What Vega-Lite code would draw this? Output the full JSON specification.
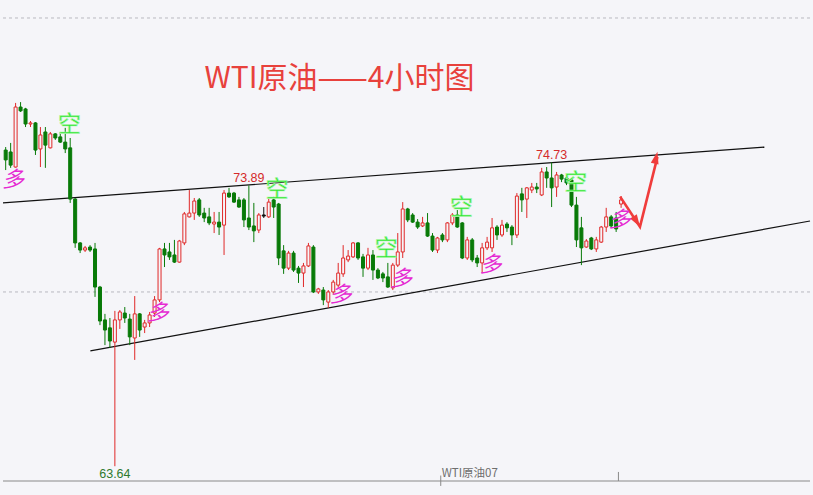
{
  "$schema": "https://vega.github.io/schema/vega-lite/v6.json",
  "width": 813,
  "height": 495,
  "autosize": {"type": "fit", "contains": "padding"},
  "padding": 0,
  "background": "#f5f5f9",
  "config": {"view": {"stroke": null}, "scale": {"continuousPadding": 0}},
  "datasets": {
    "grid": [{"p": 70}, {"p": 80}],
    "base": [{"p": 63.1}],
    "ticks": [{"i": 123.46, "p1": 63.1, "p2": 63.43}, {"i": 87.66, "p1": 62.92, "p2": 63.3}],
    "trend": [
      {"line": "upper", "i": -0.54, "p": 73.25},
      {"line": "upper", "i": 152.86, "p": 75.29},
      {"line": "lower", "i": 17.06, "p": 67.85},
      {"line": "lower", "i": 162.06, "p": 72.59}
    ],
    "candles": [
      {"i":0,"o":75.18,"c":74.82,"h":75.29,"l":74.45,"d":"down"},
      {"i":1,"o":75.11,"c":74.63,"h":75.44,"l":74.53,"d":"down"},
      {"i":2,"o":74.56,"c":76.75,"h":76.90,"l":74.54,"d":"up"},
      {"i":3,"o":76.75,"c":76.61,"h":76.93,"l":76.57,"d":"down"},
      {"i":4,"o":76.68,"c":76.13,"h":76.72,"l":76.02,"d":"down"},
      {"i":5,"o":76.13,"c":76.17,"h":76.24,"l":76.02,"d":"up"},
      {"i":6,"o":76.17,"c":75.18,"h":76.20,"l":75.00,"d":"down"},
      {"i":7,"o":75.22,"c":75.73,"h":76.02,"l":74.56,"d":"up"},
      {"i":8,"o":75.84,"c":75.36,"h":76.02,"l":74.53,"d":"down"},
      {"i":9,"o":75.26,"c":75.77,"h":75.84,"l":75.24,"d":"up"},
      {"i":10,"o":75.77,"c":75.62,"h":75.80,"l":75.55,"d":"down"},
      {"i":11,"o":75.66,"c":75.47,"h":75.84,"l":75.44,"d":"down"},
      {"i":12,"o":75.47,"c":75.22,"h":75.99,"l":75.07,"d":"down"},
      {"i":13,"o":75.26,"c":73.39,"h":75.62,"l":73.25,"d":"down"},
      {"i":14,"o":73.39,"c":71.79,"h":73.43,"l":71.61,"d":"down"},
      {"i":15,"o":71.79,"c":71.53,"h":71.82,"l":71.42,"d":"down"},
      {"i":16,"o":71.53,"c":71.61,"h":71.68,"l":71.46,"d":"up"},
      {"i":17,"o":71.64,"c":71.53,"h":71.71,"l":71.46,"d":"down"},
      {"i":18,"o":71.57,"c":70.18,"h":71.79,"l":69.82,"d":"down"},
      {"i":19,"o":70.18,"c":68.94,"h":70.22,"l":68.79,"d":"down"},
      {"i":20,"o":68.98,"c":68.61,"h":69.20,"l":68.06,"d":"down"},
      {"i":21,"o":68.69,"c":68.21,"h":69.05,"l":67.96,"d":"down"},
      {"i":22,"o":68.17,"c":68.98,"h":69.31,"l":63.64,"d":"up"},
      {"i":23,"o":68.98,"c":69.27,"h":69.34,"l":68.65,"d":"up"},
      {"i":24,"o":69.23,"c":69.05,"h":69.45,"l":68.87,"d":"down"},
      {"i":25,"o":69.01,"c":68.36,"h":69.20,"l":68.06,"d":"down"},
      {"i":26,"o":68.32,"c":69.20,"h":69.85,"l":67.52,"d":"up"},
      {"i":27,"o":69.20,"c":68.61,"h":69.23,"l":68.36,"d":"down"},
      {"i":28,"o":68.72,"c":68.87,"h":68.98,"l":68.50,"d":"up"},
      {"i":29,"o":68.87,"c":69.16,"h":69.27,"l":68.72,"d":"up"},
      {"i":30,"o":69.23,"c":69.71,"h":69.85,"l":69.09,"d":"up"},
      {"i":31,"o":69.71,"c":71.57,"h":71.61,"l":69.63,"d":"up"},
      {"i":32,"o":71.57,"c":71.35,"h":71.79,"l":70.91,"d":"down"},
      {"i":33,"o":71.46,"c":71.28,"h":71.79,"l":71.17,"d":"down"},
      {"i":34,"o":71.35,"c":71.09,"h":71.90,"l":71.06,"d":"down"},
      {"i":35,"o":71.09,"c":71.86,"h":71.90,"l":71.07,"d":"up"},
      {"i":36,"o":71.79,"c":72.85,"h":72.92,"l":71.71,"d":"up"},
      {"i":37,"o":72.74,"c":72.88,"h":73.72,"l":72.72,"d":"up"},
      {"i":38,"o":72.88,"c":73.32,"h":73.43,"l":72.63,"d":"up"},
      {"i":39,"o":73.36,"c":72.81,"h":73.43,"l":72.74,"d":"down"},
      {"i":40,"o":72.88,"c":72.70,"h":73.07,"l":72.55,"d":"down"},
      {"i":41,"o":72.74,"c":72.52,"h":73.07,"l":72.44,"d":"down"},
      {"i":42,"o":72.48,"c":72.55,"h":72.92,"l":72.15,"d":"up"},
      {"i":43,"o":72.55,"c":72.37,"h":72.92,"l":72.08,"d":"down"},
      {"i":44,"o":72.44,"c":73.61,"h":73.72,"l":71.35,"d":"up"},
      {"i":45,"o":73.61,"c":73.47,"h":73.80,"l":73.43,"d":"down"},
      {"i":46,"o":73.61,"c":73.28,"h":73.65,"l":73.25,"d":"down"},
      {"i":47,"o":73.36,"c":73.10,"h":73.47,"l":73.07,"d":"down"},
      {"i":48,"o":73.36,"c":72.63,"h":73.43,"l":72.37,"d":"down"},
      {"i":49,"o":72.70,"c":72.37,"h":73.89,"l":72.26,"d":"down"},
      {"i":50,"o":72.41,"c":72.23,"h":73.25,"l":71.82,"d":"down"},
      {"i":51,"o":72.26,"c":72.81,"h":72.88,"l":72.15,"d":"up"},
      {"i":52,"o":72.81,"c":72.77,"h":73.10,"l":72.70,"d":"flat"},
      {"i":53,"o":72.74,"c":73.28,"h":73.43,"l":72.70,"d":"up"},
      {"i":54,"o":73.36,"c":73.10,"h":73.47,"l":72.70,"d":"down"},
      {"i":55,"o":73.21,"c":71.24,"h":73.25,"l":70.98,"d":"down"},
      {"i":56,"o":71.50,"c":70.87,"h":71.71,"l":70.66,"d":"down"},
      {"i":57,"o":70.87,"c":71.42,"h":71.50,"l":70.80,"d":"up"},
      {"i":58,"o":71.42,"c":70.80,"h":71.50,"l":70.73,"d":"down"},
      {"i":59,"o":70.87,"c":70.69,"h":70.95,"l":70.33,"d":"down"},
      {"i":60,"o":70.69,"c":70.95,"h":71.06,"l":70.18,"d":"up"},
      {"i":61,"o":70.95,"c":71.68,"h":71.79,"l":70.91,"d":"up"},
      {"i":62,"o":71.64,"c":70.00,"h":71.71,"l":69.96,"d":"down"},
      {"i":63,"o":70.00,"c":70.11,"h":70.15,"l":69.93,"d":"up"},
      {"i":64,"o":70.07,"c":69.71,"h":70.18,"l":69.52,"d":"down"},
      {"i":65,"o":69.63,"c":70.00,"h":70.07,"l":69.42,"d":"up"},
      {"i":66,"o":70.00,"c":70.36,"h":70.44,"l":69.89,"d":"up"},
      {"i":67,"o":70.25,"c":70.69,"h":71.06,"l":70.15,"d":"up"},
      {"i":68,"o":70.66,"c":71.24,"h":71.71,"l":70.55,"d":"up"},
      {"i":69,"o":71.17,"c":71.31,"h":71.53,"l":71.09,"d":"up"},
      {"i":70,"o":71.28,"c":71.79,"h":71.82,"l":71.24,"d":"up"},
      {"i":71,"o":71.79,"c":71.24,"h":71.82,"l":71.17,"d":"down"},
      {"i":72,"o":71.28,"c":70.87,"h":71.39,"l":70.55,"d":"down"},
      {"i":73,"o":70.87,"c":71.35,"h":71.61,"l":70.80,"d":"up"},
      {"i":74,"o":71.35,"c":70.80,"h":71.53,"l":70.44,"d":"down"},
      {"i":75,"o":70.80,"c":70.51,"h":70.87,"l":70.47,"d":"down"},
      {"i":76,"o":70.66,"c":70.51,"h":70.73,"l":70.36,"d":"down"},
      {"i":77,"o":70.55,"c":70.18,"h":71.06,"l":70.15,"d":"down"},
      {"i":78,"o":70.15,"c":70.98,"h":71.06,"l":70.07,"d":"up"},
      {"i":79,"o":70.98,"c":71.46,"h":72.15,"l":70.91,"d":"up"},
      {"i":80,"o":71.46,"c":73.03,"h":73.28,"l":71.24,"d":"up"},
      {"i":81,"o":73.03,"c":72.63,"h":73.07,"l":72.55,"d":"down"},
      {"i":82,"o":72.81,"c":72.55,"h":72.88,"l":72.52,"d":"down"},
      {"i":83,"o":72.55,"c":72.37,"h":72.66,"l":72.30,"d":"down"},
      {"i":84,"o":72.41,"c":72.52,"h":72.74,"l":72.37,"d":"up"},
      {"i":85,"o":72.52,"c":72.04,"h":72.88,"l":72.01,"d":"down"},
      {"i":86,"o":72.04,"c":71.53,"h":72.15,"l":71.46,"d":"down"},
      {"i":87,"o":71.53,"c":71.97,"h":72.01,"l":71.42,"d":"up"},
      {"i":88,"o":72.08,"c":71.90,"h":72.15,"l":71.82,"d":"down"},
      {"i":89,"o":71.90,"c":72.52,"h":72.55,"l":71.82,"d":"up"},
      {"i":90,"o":72.52,"c":72.81,"h":72.88,"l":72.44,"d":"up"},
      {"i":91,"o":72.81,"c":72.37,"h":72.99,"l":72.34,"d":"down"},
      {"i":92,"o":72.52,"c":71.24,"h":72.55,"l":71.20,"d":"down"},
      {"i":93,"o":71.24,"c":71.90,"h":72.01,"l":71.17,"d":"up"},
      {"i":94,"o":71.90,"c":71.17,"h":71.97,"l":71.09,"d":"down"},
      {"i":95,"o":71.24,"c":71.06,"h":71.35,"l":70.91,"d":"down"},
      {"i":96,"o":71.06,"c":71.61,"h":71.79,"l":70.69,"d":"up"},
      {"i":97,"o":71.61,"c":71.82,"h":72.01,"l":71.53,"d":"up"},
      {"i":98,"o":71.61,"c":72.34,"h":72.70,"l":71.46,"d":"up"},
      {"i":99,"o":72.37,"c":72.08,"h":72.44,"l":71.90,"d":"down"},
      {"i":100,"o":72.08,"c":72.44,"h":72.63,"l":72.01,"d":"up"},
      {"i":101,"o":72.48,"c":72.34,"h":72.55,"l":72.19,"d":"down"},
      {"i":102,"o":72.37,"c":72.08,"h":72.44,"l":71.71,"d":"down"},
      {"i":103,"o":72.08,"c":73.50,"h":73.61,"l":71.97,"d":"up"},
      {"i":104,"o":73.58,"c":73.36,"h":73.80,"l":72.92,"d":"down"},
      {"i":105,"o":73.39,"c":73.80,"h":73.83,"l":72.70,"d":"up"},
      {"i":106,"o":73.72,"c":73.83,"h":73.98,"l":73.61,"d":"up"},
      {"i":107,"o":73.83,"c":73.76,"h":73.98,"l":73.61,"d":"down"},
      {"i":108,"o":73.54,"c":74.38,"h":74.53,"l":73.50,"d":"up"},
      {"i":109,"o":74.38,"c":74.16,"h":74.56,"l":73.80,"d":"down"},
      {"i":110,"o":74.16,"c":73.80,"h":74.73,"l":73.10,"d":"down"},
      {"i":111,"o":73.83,"c":74.27,"h":74.38,"l":73.47,"d":"up"},
      {"i":112,"o":74.27,"c":74.12,"h":74.31,"l":74.01,"d":"down"},
      {"i":113,"o":74.16,"c":73.98,"h":74.27,"l":73.90,"d":"down"},
      {"i":114,"o":74.09,"c":73.17,"h":74.16,"l":73.10,"d":"down"},
      {"i":115,"o":73.17,"c":71.90,"h":73.47,"l":71.64,"d":"down"},
      {"i":116,"o":72.34,"c":71.61,"h":72.74,"l":70.98,"d":"down"},
      {"i":117,"o":71.64,"c":71.86,"h":71.93,"l":71.61,"d":"up"},
      {"i":118,"o":71.97,"c":71.57,"h":72.01,"l":71.53,"d":"down"},
      {"i":119,"o":71.57,"c":71.90,"h":72.01,"l":71.46,"d":"up"},
      {"i":120,"o":71.82,"c":72.37,"h":72.41,"l":71.79,"d":"up"},
      {"i":121,"o":72.37,"c":72.74,"h":73.07,"l":72.19,"d":"up"},
      {"i":122,"o":72.74,"c":72.41,"h":72.81,"l":72.34,"d":"down"},
      {"i":123,"o":72.70,"c":72.30,"h":72.92,"l":72.19,"d":"down"},
      {"i":124,"o":73.21,"c":73.36,"h":73.50,"l":73.07,"d":"up"}
    ],
    "arrow": [
      {"s": 1, "i": 123.8, "p": 73.48},
      {"s": 2, "i": 127.8, "p": 72.38},
      {"s": 3, "i": 131.32, "p": 74.93}
    ],
    "heads": [
      {"h": "down", "i": 127.14, "p": 72.57},
      {"h": "up", "i": 131.04, "p": 74.9}
    ],
    "signals": [
      {"t": "空", "i": 12.86, "p": 76.09},
      {"t": "空", "i": 54.66, "p": 73.72},
      {"t": "空", "i": 76.66, "p": 71.57},
      {"t": "空", "i": 91.86, "p": 73.07},
      {"t": "空", "i": 114.86, "p": 73.98},
      {"t": "多", "i": 1.46, "p": 74.09},
      {"t": "多", "i": 30.66, "p": 69.23},
      {"t": "多", "i": 67.46, "p": 69.89},
      {"t": "多", "i": 79.66, "p": 70.47},
      {"t": "多", "i": 97.66, "p": 70.98},
      {"t": "多", "i": 123.66, "p": 72.62}
    ],
    "highs": [
      {"t": "73.89", "i": 49, "p": 73.89},
      {"t": "74.73", "i": 110, "p": 74.73}
    ],
    "lows": [{"t": "63.64", "i": 22, "p": 63.64}],
    "title": [{"t": "WTI原油——4小时图", "i": 67.26, "p": 77.78}],
    "symbol": [{"t": "WTI原油07", "i": 87.86, "p": 63.36}]
  },
  "layer": [
    {
      "data": {"name": "grid"},
      "mark": {"type": "rule", "color": "#b9b9c0", "strokeDash": [3, 3], "strokeWidth": 1},
      "encoding": {
        "y": {"field": "p", "type": "quantitative", "scale": {"domain": [62.589, 80.657], "nice": false, "zero": false, "padding": 0}, "axis": null}
      }
    },
    {
      "data": {"name": "base"},
      "mark": {"type": "rule", "color": "#8a8a8a", "strokeWidth": 1.2},
      "encoding": {
        "y": {"field": "p", "type": "quantitative", "scale": {"domain": [62.589, 80.657], "nice": false, "zero": false, "padding": 0}, "axis": null}
      }
    },
    {
      "data": {"name": "ticks"},
      "mark": {"type": "rule", "color": "#8a8a8a", "strokeWidth": 1},
      "encoding": {
        "x": {"field": "i", "type": "quantitative", "scale": {"domain": [-0.54, 162.06], "nice": false, "zero": false, "padding": 0}, "axis": null},
        "y": {"field": "p1", "type": "quantitative", "scale": {"domain": [62.589, 80.657], "nice": false, "zero": false, "padding": 0}, "axis": null},
        "y2": {"field": "p2"}
      }
    },
    {
      "data": {"name": "trend"},
      "mark": {"type": "line", "color": "#111111", "strokeWidth": 1.2},
      "encoding": {
        "x": {"field": "i", "type": "quantitative", "scale": {"domain": [-0.54, 162.06], "nice": false, "zero": false, "padding": 0}, "axis": null},
        "y": {"field": "p", "type": "quantitative", "scale": {"domain": [62.589, 80.657], "nice": false, "zero": false, "padding": 0}, "axis": null},
        "detail": {"field": "line"}
      }
    },
    {
      "data": {"name": "candles"},
      "mark": {"type": "rule", "strokeWidth": 1},
      "encoding": {
        "x": {"field": "i", "type": "quantitative", "scale": {"domain": [-0.54, 162.06], "nice": false, "zero": false, "padding": 0}, "axis": null},
        "y": {"field": "l", "type": "quantitative", "scale": {"domain": [62.589, 80.657], "nice": false, "zero": false, "padding": 0}, "axis": null},
        "y2": {"field": "h"},
        "stroke": {"field": "d", "type": "nominal", "scale": {"domain": ["up", "down", "flat"], "range": ["#e02828", "#087a08", "#111111"]}, "legend": null}
      }
    },
    {
      "data": {"name": "candles"},
      "mark": {"type": "bar", "size": 3, "strokeWidth": 1},
      "encoding": {
        "x": {"field": "i", "type": "quantitative", "scale": {"domain": [-0.54, 162.06], "nice": false, "zero": false, "padding": 0}, "axis": null},
        "y": {"field": "o", "type": "quantitative", "scale": {"domain": [62.589, 80.657], "nice": false, "zero": false, "padding": 0}, "axis": null},
        "y2": {"field": "c"},
        "fill": {"field": "d", "type": "nominal", "scale": {"domain": ["up", "down", "flat"], "range": ["#f5f5f9", "#087a08", "#111111"]}, "legend": null},
        "stroke": {"field": "d", "type": "nominal", "scale": {"domain": ["up", "down", "flat"], "range": ["#e02828", "#087a08", "#111111"]}, "legend": null}
      }
    },
    {
      "data": {"name": "arrow"},
      "mark": {"type": "line", "color": "#f03c3c", "strokeWidth": 2.6, "strokeJoin": "miter"},
      "encoding": {
        "x": {"field": "i", "type": "quantitative", "scale": {"domain": [-0.54, 162.06], "nice": false, "zero": false, "padding": 0}, "axis": null},
        "y": {"field": "p", "type": "quantitative", "scale": {"domain": [62.589, 80.657], "nice": false, "zero": false, "padding": 0}, "axis": null},
        "order": {"field": "s"}
      }
    },
    {
      "data": {"name": "heads"},
      "transform": [{"filter": "datum.h === 'down'"}],
      "mark": {"type": "point", "shape": "M0,-1L0.65,1L-0.65,1Z", "filled": true, "opacity": 1, "color": "#f03c3c", "size": 150, "angle": 148},
      "encoding": {
        "x": {"field": "i", "type": "quantitative", "scale": {"domain": [-0.54, 162.06], "nice": false, "zero": false, "padding": 0}, "axis": null},
        "y": {"field": "p", "type": "quantitative", "scale": {"domain": [62.589, 80.657], "nice": false, "zero": false, "padding": 0}, "axis": null}
      }
    },
    {
      "data": {"name": "heads"},
      "transform": [{"filter": "datum.h === 'up'"}],
      "mark": {"type": "point", "shape": "M0,-1L0.65,1L-0.65,1Z", "filled": true, "opacity": 1, "color": "#f03c3c", "size": 150, "angle": 13},
      "encoding": {
        "x": {"field": "i", "type": "quantitative", "scale": {"domain": [-0.54, 162.06], "nice": false, "zero": false, "padding": 0}, "axis": null},
        "y": {"field": "p", "type": "quantitative", "scale": {"domain": [62.589, 80.657], "nice": false, "zero": false, "padding": 0}, "axis": null}
      }
    },
    {
      "data": {"name": "signals"},
      "transform": [{"filter": "datum.t === '空'"}],
      "mark": {"type": "text", "font": "Noto Sans CJK SC", "fontSize": 23, "color": "#2ee52e", "stroke": "#a8f5a8", "strokeWidth": 0.7, "align": "center", "baseline": "middle"},
      "encoding": {
        "x": {"field": "i", "type": "quantitative", "scale": {"domain": [-0.54, 162.06], "nice": false, "zero": false, "padding": 0}, "axis": null},
        "y": {"field": "p", "type": "quantitative", "scale": {"domain": [62.589, 80.657], "nice": false, "zero": false, "padding": 0}, "axis": null},
        "text": {"field": "t"}
      }
    },
    {
      "data": {"name": "signals"},
      "transform": [{"filter": "datum.t === '多'"}],
      "mark": {"type": "text", "font": "Noto Sans CJK SC", "fontSize": 22, "fontStyle": "italic", "color": "#e52ad2", "align": "center", "baseline": "middle"},
      "encoding": {
        "x": {"field": "i", "type": "quantitative", "scale": {"domain": [-0.54, 162.06], "nice": false, "zero": false, "padding": 0}, "axis": null},
        "y": {"field": "p", "type": "quantitative", "scale": {"domain": [62.589, 80.657], "nice": false, "zero": false, "padding": 0}, "axis": null},
        "text": {"field": "t"}
      }
    },
    {
      "data": {"name": "highs"},
      "mark": {"type": "text", "font": "Liberation Sans", "fontSize": 12.5, "color": "#d42a2a", "align": "center", "baseline": "bottom", "dy": 0},
      "encoding": {
        "x": {"field": "i", "type": "quantitative", "scale": {"domain": [-0.54, 162.06], "nice": false, "zero": false, "padding": 0}, "axis": null},
        "y": {"field": "p", "type": "quantitative", "scale": {"domain": [62.589, 80.657], "nice": false, "zero": false, "padding": 0}, "axis": null},
        "text": {"field": "t"}
      }
    },
    {
      "data": {"name": "lows"},
      "mark": {"type": "text", "font": "Liberation Sans", "fontSize": 12.5, "color": "#2f7a2f", "align": "center", "baseline": "top", "dy": 2},
      "encoding": {
        "x": {"field": "i", "type": "quantitative", "scale": {"domain": [-0.54, 162.06], "nice": false, "zero": false, "padding": 0}, "axis": null},
        "y": {"field": "p", "type": "quantitative", "scale": {"domain": [62.589, 80.657], "nice": false, "zero": false, "padding": 0}, "axis": null},
        "text": {"field": "t"}
      }
    },
    {
      "data": {"name": "title"},
      "mark": {"type": "text", "font": "Noto Sans CJK SC", "fontSize": 30, "color": "#e8413c", "align": "center", "baseline": "middle"},
      "encoding": {
        "x": {"field": "i", "type": "quantitative", "scale": {"domain": [-0.54, 162.06], "nice": false, "zero": false, "padding": 0}, "axis": null},
        "y": {"field": "p", "type": "quantitative", "scale": {"domain": [62.589, 80.657], "nice": false, "zero": false, "padding": 0}, "axis": null},
        "text": {"field": "t"}
      }
    },
    {
      "data": {"name": "symbol"},
      "mark": {"type": "text", "font": "Noto Sans CJK SC", "fontSize": 11.5, "color": "#6e6e6e", "align": "left", "baseline": "middle"},
      "encoding": {
        "x": {"field": "i", "type": "quantitative", "scale": {"domain": [-0.54, 162.06], "nice": false, "zero": false, "padding": 0}, "axis": null},
        "y": {"field": "p", "type": "quantitative", "scale": {"domain": [62.589, 80.657], "nice": false, "zero": false, "padding": 0}, "axis": null},
        "text": {"field": "t"}
      }
    }
  ]
}
